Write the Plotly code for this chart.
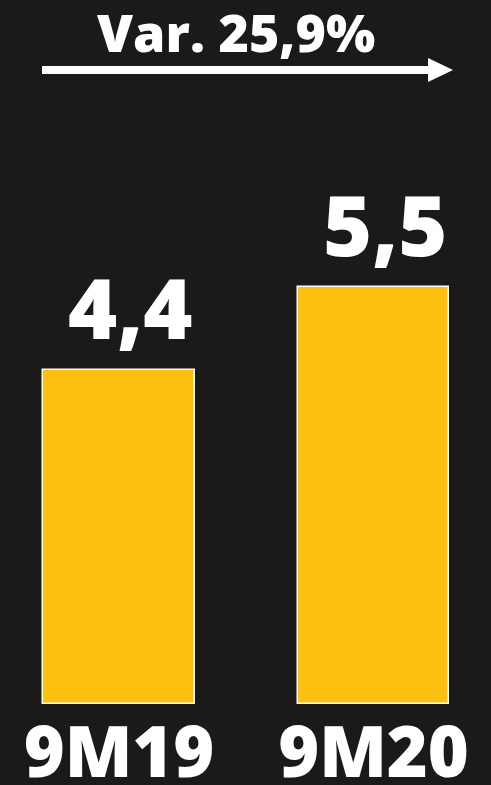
import plotly.graph_objects as go

# Periods and values shown on the chart
periods = ["9M19", "9M20"]
values = [4.4, 5.5]
value_labels = ["4,4", "5,5"]
variation_label = "Var. 25,9%"

W, H = 491, 785
M_TOP, M_BOT = 0, 81
PLOT_H = H - M_TOP - M_BOT

BG = "#1c1a18"
BAR = "#FDC010"
FONT = "Open Sans"

fig = go.Figure()

fig.add_trace(go.Bar(
    x=[0, 1],
    y=values,
    width=0.597,
    marker=dict(color=BAR, line=dict(color="white", width=1.5)),
    hoverinfo="skip",
))

# Value labels above each bar
for i, (v, lab) in enumerate(zip(values, value_labels)):
    fig.add_annotation(
        x=i, y=v, xref="x", yref="y",
        text=lab, showarrow=False,
        yanchor="bottom", xanchor="center",
        xshift=11, yshift=4,
        font=dict(family=FONT, size=84, color="white", weight=800),
    )

# Variation headline and arrow
def px_to_paper_y(py):
    return (PLOT_H - (py - M_TOP)) / PLOT_H

fig.add_annotation(
    x=236 / W, y=px_to_paper_y(31), xref="paper", yref="paper",
    text=variation_label, showarrow=False,
    xanchor="center", yanchor="middle",
    font=dict(family=FONT, size=52, color="white", weight=800),
)

arrow_y = px_to_paper_y(70)
fig.add_shape(
    type="line", xref="paper", yref="paper",
    x0=42 / W, x1=432 / W, y0=arrow_y, y1=arrow_y,
    line=dict(color="white", width=8),
)
fig.add_shape(
    type="path", xref="paper", yref="paper",
    path=(f"M {428 / W},{px_to_paper_y(58)} "
          f"L {453 / W},{arrow_y} "
          f"L {428 / W},{px_to_paper_y(82)} Z"),
    fillcolor="white", line=dict(color="white", width=0),
)

spacing = 254.5
x0 = -119 / spacing
x1 = (W - 119) / spacing

fig.update_layout(
    width=W, height=H,
    margin=dict(l=0, r=0, t=M_TOP, b=M_BOT, autoexpand=False),
    paper_bgcolor=BG, plot_bgcolor=BG,
    showlegend=False,
    bargap=0,
    xaxis=dict(
        range=[x0, x1],
        tickmode="array", tickvals=[0, 1], ticktext=periods,
        tickfont=dict(family=FONT, size=70, color="white", weight=800),
        showgrid=False, zeroline=False, showline=False, ticks="",
        ticklabelstandoff=2,
        automargin=False,
        fixedrange=True,
    ),
    yaxis=dict(
        range=[0, PLOT_H / 75.8],
        visible=False, showgrid=False, zeroline=False,
        automargin=False,
        fixedrange=True,
    ),
)

fig.write_html("out.html", config={"displayModeBar": False})
